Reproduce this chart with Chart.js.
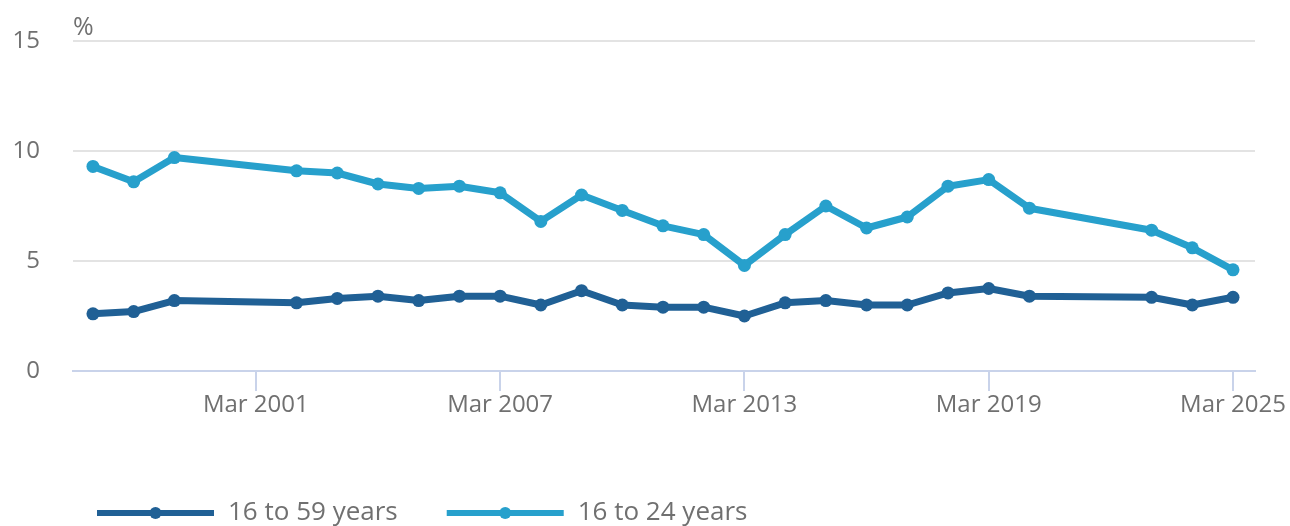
<!DOCTYPE html>
<html>
<head>
<meta charset="utf-8">
<script src="https://cdn.jsdelivr.net/npm/chart.js@4/dist/chart.umd.min.js"></script>
<style>
  html, body { margin: 0; padding: 0; background: #fff; }
  #wrap { width: 1290px; height: 526px; position: relative; }
</style>
</head>
<body>
<div id="wrap"><canvas id="c" width="1290" height="526"></canvas></div>
<script>
// ---- data (March of each year) ----
const years = [1997, 1998, 1999, 2002, 2003, 2004, 2005, 2006, 2007, 2008, 2009, 2010, 2011, 2012, 2013, 2014, 2015, 2016, 2017, 2018, 2019, 2020, 2023, 2024, 2025];
const age16to59 = [2.6, 2.7, 3.2, 3.1, 3.3, 3.4, 3.2, 3.4, 3.4, 3.0, 3.65, 3.0, 2.9, 2.9, 2.5, 3.1, 3.2, 3.0, 3.0, 3.55, 3.75, 3.4, 3.35, 3.0, 3.35];
const age16to24 = [9.3, 8.6, 9.7, 9.1, 9.0, 8.5, 8.3, 8.4, 8.1, 6.8, 8.0, 7.3, 6.6, 6.2, 4.8, 6.2, 7.5, 6.5, 7.0, 8.4, 8.7, 7.4, 6.4, 5.6, 4.6];
const seriesLabels = ['16 to 59 years', '16 to 24 years'];
const xTickYears = [2001, 2007, 2013, 2019, 2025];
const yTicks = [0, 5, 10, 15];
const unitLabel = '%';

const DARK = '#206095';
const LIGHT = '#27a0cc';
const TEXT = '#707070';
const AXIS = '#c9d3ea';
const GRID = '#e3e3e3';
const FONT = "'Open Sans', sans-serif";

const toPts = (vals) => vals.map((v, i) => ({ x: years[i], y: v }));

const extrasPlugin = {
  id: 'extras',
  afterDraw(chart) {
    const ctx = chart.ctx;
    const area = chart.chartArea;
    ctx.save();
    // unit label
    ctx.fillStyle = TEXT;
    ctx.font = '25px ' + FONT;
    ctx.textAlign = 'left';
    ctx.textBaseline = 'alphabetic';
    ctx.fillText(unitLabel, area.left, area.top - 6);

    // legend
    const ly = 513;
    let x = 97;
    const lineLen = 117;
    chart.data.datasets.forEach((ds) => {
      ctx.strokeStyle = ds.borderColor;
      ctx.lineWidth = 6;
      ctx.beginPath();
      ctx.moveTo(x, ly);
      ctx.lineTo(x + lineLen, ly);
      ctx.stroke();
      ctx.fillStyle = ds.borderColor;
      ctx.beginPath();
      ctx.arc(x + lineLen / 2, ly, 6, 0, Math.PI * 2);
      ctx.fill();
      ctx.fillStyle = TEXT;
      ctx.font = '26px ' + FONT;
      ctx.textBaseline = 'middle';
      const tx = x + lineLen + 14;
      ctx.fillText(ds.label, tx, ly);
      x = tx + ctx.measureText(ds.label).width + 49;
    });
    ctx.restore();
  }
};

new Chart(document.getElementById('c'), {
  type: 'line',
  data: {
    datasets: [
      {
        label: seriesLabels[0],
        data: toPts(age16to59),
        borderColor: DARK,
        backgroundColor: DARK,
        borderWidth: 7,
        pointRadius: 6.5,
        pointBorderWidth: 0,
        pointBackgroundColor: DARK,
        tension: 0,
        borderJoinStyle: 'round'
      },
      {
        label: seriesLabels[1],
        data: toPts(age16to24),
        borderColor: LIGHT,
        backgroundColor: LIGHT,
        borderWidth: 7,
        pointRadius: 6.5,
        pointBorderWidth: 0,
        pointBackgroundColor: LIGHT,
        tension: 0,
        borderJoinStyle: 'round'
      }
    ]
  },
  options: {
    responsive: false,
    animation: false,
    events: [],
    layout: { padding: { top: 41, bottom: 95, left: 0, right: 35 } },
    plugins: {
      legend: { display: false },
      tooltip: { enabled: false },
      title: { display: false }
    },
    scales: {
      x: {
        type: 'linear',
        min: 1996.51,
        max: 2025.54,
        afterBuildTicks: (scale) => { scale.ticks = xTickYears.map(v => ({ value: v })); },
        afterFit: (scale) => { scale.height = 60; scale.paddingLeft = 0; scale.paddingRight = 0; },
        grid: {
          drawOnChartArea: false,
          drawTicks: true,
          tickLength: 20,
          color: AXIS,
          lineWidth: 2
        },
        border: { display: true, color: AXIS, width: 2 },
        ticks: {
          autoSkip: false,
          maxRotation: 0,
          padding: 0,
          color: TEXT,
          font: { family: FONT, size: 24 },
          callback: (v) => 'Mar ' + v
        }
      },
      y: {
        min: 0,
        max: 15,
        afterBuildTicks: (scale) => { scale.ticks = yTicks.map(v => ({ value: v })); },
        afterFit: (scale) => { scale.width = 73; scale.paddingTop = 0; scale.paddingBottom = 0; },
        grid: {
          drawTicks: false,
          color: (c) => (c.tick && c.tick.value === 0) ? 'rgba(0,0,0,0)' : GRID,
          lineWidth: 2
        },
        border: { display: false },
        ticks: {
          padding: 33,
          color: TEXT,
          font: { family: FONT, size: 24 }
        }
      }
    }
  },
  plugins: [extrasPlugin]
});
</script>
</body>
</html>
